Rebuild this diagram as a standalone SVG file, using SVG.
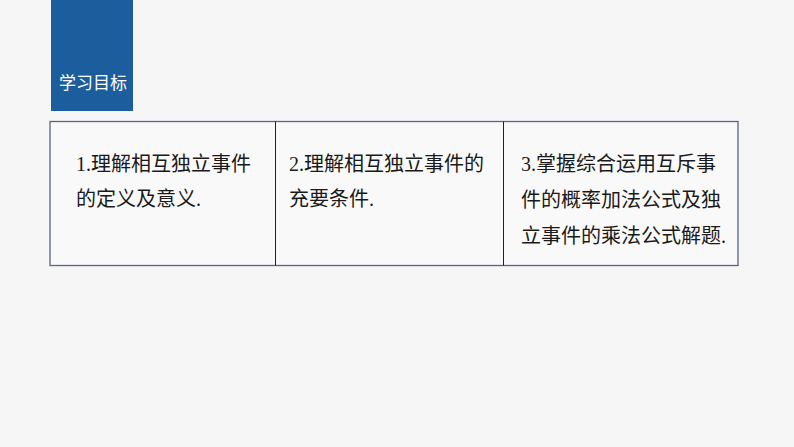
<svg xmlns="http://www.w3.org/2000/svg" width="794" height="447" viewBox="0 0 794 447">
<style>
.t{font-family:"Liberation Serif","Noto Sans CJK SC",serif;font-size:20px;fill:#1a1a1a}
.c{font-family:"Noto Sans CJK SC",sans-serif}
</style>
<rect width="794" height="447" fill="#f6f6f6"/>
<g id="title">
<rect x="51" y="0" width="82" height="111" fill="#1b5d9d"/>
<text x="59" y="89" font-family="Noto Sans CJK SC,sans-serif" font-size="17" fill="#fff">学习目标</text>
</g>
<g id="table">
<rect x="50" y="121.5" width="688" height="144" fill="#f9f9f9" stroke="#5c6384" stroke-width="1.3"/>
<line x1="275.5" y1="121.5" x2="275.5" y2="265.5" stroke="#222" stroke-width="1"/>
<line x1="503.5" y1="121.5" x2="503.5" y2="265.5" stroke="#222" stroke-width="1"/>
</g>
<g id="cell1">
<text class="t" x="76" y="171">1.<tspan class="c">理解相互独立事件</tspan></text>
<text class="t" x="76" y="206"><tspan class="c">的定义及意义</tspan>.</text>
</g>
<g id="cell2">
<text class="t" x="289" y="171">2.<tspan class="c">理解相互独立事件的</tspan></text>
<text class="t" x="289" y="206"><tspan class="c">充要条件</tspan>.</text>
</g>
<g id="cell3">
<text class="t" x="521" y="171">3.<tspan class="c">掌握综合运用互斥事</tspan></text>
<text class="t" x="521" y="207"><tspan class="c">件的概率加法公式及独</tspan></text>
<text class="t" x="521" y="243"><tspan class="c">立事件的乘法公式解题</tspan>.</text>
</g>
</svg>
